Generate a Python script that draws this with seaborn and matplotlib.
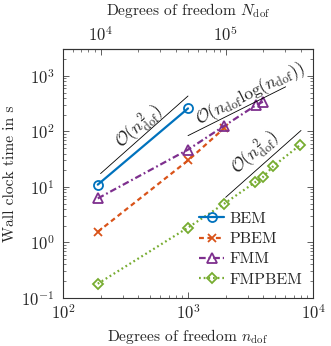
import matplotlib
matplotlib.use("Agg")
import matplotlib.pyplot as plt
import matplotlib.ticker as mticker
import seaborn as sns

# measured timings
n_bem = [190, 1000]
t_bem = [11.0, 260]
n_pbem = [190, 1000, 1950]
t_pbem = [1.55, 30, 115]
n_fmm = [190, 1000, 1950, 3500, 4000]
t_fmm = [6.2, 47, 126, 298, 346]
n_fmpbem = [190, 1000, 1950, 3450, 3950, 4800, 7800]
t_fmpbem = [0.18, 1.85, 5.0, 12.2, 14.9, 23.6, 56]

# complexity guide lines (end points)
ref_sq1_n = [200, 1000]
ref_sq1_t = [17.4, 435]
ref_nlog_n = [1000, 6030]
ref_nlog_t = [84, 637]
ref_sq2_n = [2000, 8000]
ref_sq2_t = [6.5, 104]

top_ticks = [1e4, 1e5]
dof_factor = 50  # N_dof = 50 * n_dof

sns.set_style("ticks")
plt.rcParams["font.family"] = "serif"
plt.rcParams["font.serif"] = ["cmr10", "DejaVu Serif"]
plt.rcParams["mathtext.fontset"] = "cm"
plt.rcParams["axes.formatter.use_mathtext"] = True
plt.rcParams["font.size"] = 11.2
plt.rcParams["axes.unicode_minus"] = False

fig = plt.figure(figsize=(3.31, 3.46), dpi=100)
ax = fig.add_axes([0.190, 0.139, 0.756, 0.718])

series = [
    ("BEM", n_bem, t_bem, "#0072BD", "-", "o", 6.5),
    ("PBEM", n_pbem, t_pbem, "#D95319", (0, (2.2, 1.6)), "x", 6),
    ("FMM", n_fmm, t_fmm, "#7E2F8E", (0, (3, 1.3, 0.8, 1.3)), "^", 6.5),
    ("FMPBEM", n_fmpbem, t_fmpbem, "#77AC30", (0, (0.8, 1.3)), "D", 5),
]
for name, x, y, c, ls, mk, ms in series:
    sns.lineplot(x=x, y=y, ax=ax, color=c, linestyle=ls, linewidth=1.6,
                 marker=mk, markersize=ms, markerfacecolor="none",
                 markeredgecolor=c, markeredgewidth=1.3, label=name)

for xs, ys in [(ref_sq1_n, ref_sq1_t), (ref_nlog_n, ref_nlog_t), (ref_sq2_n, ref_sq2_t)]:
    ax.plot(xs, ys, color="black", linewidth=0.6)

ax.text(410, 118, r"$\mathcal{O}(n_{\mathrm{dof}}^2)$", rotation=41.7,
        ha="center", va="center", rotation_mode="anchor", fontsize=12.5)
ax.text(3150, 480, r"$\mathcal{O}(n_{\mathrm{dof}}\log(n_{\mathrm{dof}}))$",
        rotation=26.7, ha="center", va="center", rotation_mode="anchor", fontsize=12.5)
ax.text(3450, 41, r"$\mathcal{O}(n_{\mathrm{dof}}^2)$", rotation=41.7,
        ha="center", va="center", rotation_mode="anchor", fontsize=12.5)

ax.set_xscale("log")
ax.set_yscale("log")
ax.set_xlim(100, 10000)
ax.set_ylim(0.1, 3000)
ax.set_xlabel(r"Degrees of freedom $n_{\mathrm{dof}}$", labelpad=3)
ax.set_ylabel("Wall clock time in s", labelpad=3)
ax.tick_params(which="both", direction="in", top=False, right=True, color="#444444")
ax.tick_params(which="major", length=4, width=0.6, labelsize=12)
ax.tick_params(which="minor", length=2.2, width=0.5)
ax.tick_params(axis="y", which="major", pad=6)
ax.tick_params(axis="x", which="major", pad=4)
for s in ax.spines.values():
    s.set_linewidth(0.8)
    s.set_color("#333333")

sec = ax.secondary_xaxis("top", functions=(lambda n: n * dof_factor,
                                           lambda N: N / dof_factor))
sec.xaxis.set_major_locator(mticker.FixedLocator(top_ticks))
sec.xaxis.set_major_formatter(mticker.LogFormatterSciNotation())
sec.xaxis.set_minor_locator(mticker.LogLocator(base=10, subs=range(2, 10)))
sec.xaxis.set_minor_formatter(mticker.NullFormatter())
sec.set_xlabel(r"Degrees of freedom $N_{\mathrm{dof}}$", labelpad=7)
sec.tick_params(which="both", direction="in", color="#444444")
sec.tick_params(which="major", length=4, width=0.6, pad=4, labelsize=12)
sec.tick_params(which="minor", length=2.2, width=0.5)

leg = ax.legend(loc="lower right", frameon=False, handlelength=1.6,
                handletextpad=0.3, labelspacing=0.38, borderaxespad=0.3,
                fontsize=11.5)

fig.savefig("out.png", dpi=100)
